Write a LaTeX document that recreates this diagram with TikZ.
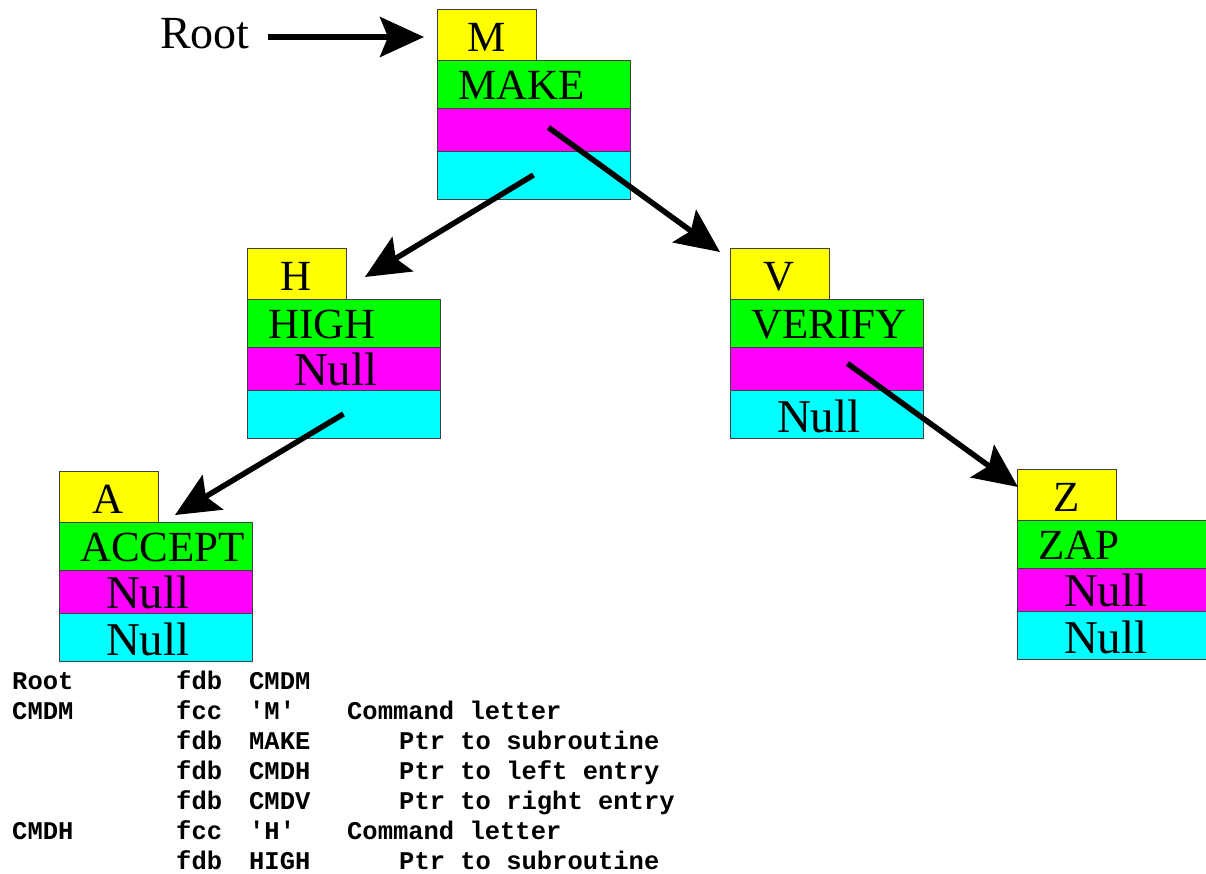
\documentclass[tikz,border=0pt]{standalone}
\usepackage{fontspec}
\setmainfont{Liberation Serif}
\setmonofont{Liberation Mono}
\usetikzlibrary{arrows.meta, calc, positioning}
\definecolor{keyyellow}{RGB}{255, 255, 0}
\definecolor{namegreen}{RGB}{0, 255, 0}
\definecolor{leftmagenta}{RGB}{255, 0, 255}
\definecolor{rightcyan}{RGB}{0, 255, 255}
\tikzstyle{field} = [rectangle, draw=black!75, line width=0.8pt,
                     outer sep=0pt, inner ysep=0pt, anchor=north west]
\tikzstyle{letterbox} = [field, fill=keyyellow, inner xsep=0pt,
                         text width=99pt, align=center,
                         text height=42pt, text depth=9pt,
                         font=\fontsize{43}{43}\selectfont]
\tikzstyle{namebox} = [field, fill=namegreen, inner xsep=21pt,
                       text width=151pt, align=left,
                       text height=39pt, text depth=9pt,
                       font=\fontsize{43}{43}\selectfont]
\tikzstyle{leftbox} = [field, fill=leftmagenta, inner xsep=47pt,
                       text width=99pt, align=left,
                       text height=38pt, text depth=5pt,
                       font=\fontsize{47}{47}\selectfont]
\tikzstyle{rightbox} = [field, fill=rightcyan, inner xsep=47pt,
                        text width=99pt, align=left,
                        text height=42pt, text depth=6pt,
                        font=\fontsize{47}{47}\selectfont]
\tikzstyle{arrow} = [line width=5.5pt, -{Stealth[length=44pt, width=40pt, inset=8pt]}]

\begin{document}
\begin{tikzpicture}[x=1pt, y=-1pt]

    \path [use as bounding box, fill=white] (0,0) rectangle (1206,873);

        % root pointer
        \node (Root) [anchor=base west, inner sep=0pt, font=\fontsize{46}{46}\selectfont] at (160,48) {Root};

        % M entry
        \node (Mk) [letterbox] at (437,9) {M};
        \node (Mn) [namebox] at (Mk.south west) {MAKE};
        \node (Ml) [leftbox] at (Mn.south west) {};
        \node (Mr) [rightbox] at (Ml.south west) {};

        % H entry
        \node (Hk) [letterbox] at (247,248) {H};
        \node (Hn) [namebox] at (Hk.south west) {HIGH};
        \node (Hl) [leftbox] at (Hn.south west) {Null};
        \node (Hr) [rightbox] at (Hl.south west) {};

        % V entry
        \node (Vk) [letterbox] at (730,248) {V};
        \node (Vn) [namebox] at (Vk.south west) {VERIFY};
        \node (Vl) [leftbox] at (Vn.south west) {};
        \node (Vr) [rightbox] at (Vl.south west) {Null};

        % A entry
        \node (Ak) [letterbox] at (59,471) {A};
        \node (An) [namebox] at (Ak.south west) {ACCEPT};
        \node (Al) [leftbox] at (An.south west) {Null};
        \node (Ar) [rightbox] at (Al.south west) {Null};

        % Z entry
        \node (Zk) [letterbox] at (1017,469) {Z};
        \node (Zn) [namebox] at (Zk.south west) {ZAP};
        \node (Zl) [leftbox] at (Zn.south west) {Null};
        \node (Zr) [rightbox] at (Zl.south west) {Null};

        % arrow ends
        \coordinate (fromRoot) at ($(Root.base east)+(18,-11)$);
        \coordinate (toM) at ($(Mk.west)+(-13,2.5)$);
        \coordinate (fromMl) at ($(Ml.center)+(15,-2)$);
        \coordinate (toH) at ($(Hk.east)+(19,3.5)$);
        \coordinate (toV) at ($(Vk.north west)+(-10,4)$);
        \coordinate (fromVl) at ($(Vl.center)+(21,-5)$);
        \coordinate (toZ) at ($(Zk.north west)+(1,18)$);
        \coordinate (toA) at ($(Ak.south east)+(17,-7)$);

        \draw [arrow] (fromRoot) -- (toM);
        \draw [arrow] (Mr.center) -- (toH);
        \draw [arrow] (fromMl) -- (toV);
        \draw [arrow] (fromVl) -- (toZ);
        \draw [arrow] (Hr.center) -- (toA);

        % listing
        \node (Listing) [anchor=north west, inner sep=0pt,
                         font=\fontsize{25.5}{30}\selectfont\ttfamily\bfseries] at (12,668) {%
            \begin{tabular}{@{}p{164pt}@{}p{73pt}@{}p{98pt}@{}l@{}}
            Root & fdb & CMDM & \\
            CMDM & fcc & \textquotesingle M\textquotesingle & Command letter \\
                 & fdb & MAKE & \hspace*{52pt}Ptr to subroutine \\
                 & fdb & CMDH & \hspace*{52pt}Ptr to left entry \\
                 & fdb & CMDV & \hspace*{52pt}Ptr to right entry \\
            CMDH & fcc & \textquotesingle H\textquotesingle & Command letter \\
                 & fdb & HIGH & \hspace*{52pt}Ptr to subroutine \\
            \end{tabular}};

    \end{tikzpicture}
\end{document}
